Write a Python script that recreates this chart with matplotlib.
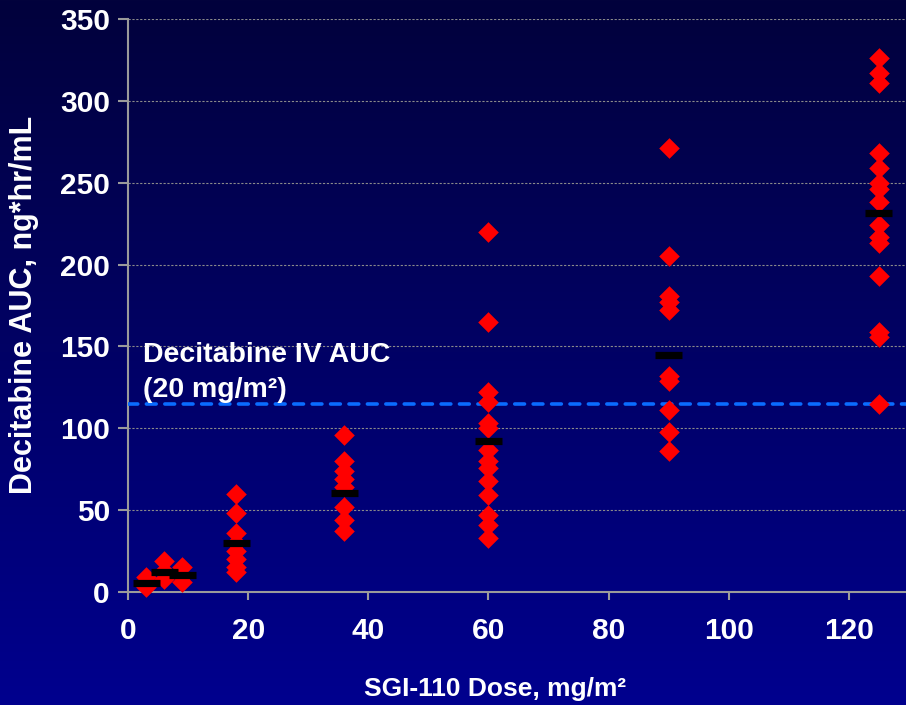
import matplotlib
matplotlib.use("Agg")
import matplotlib.pyplot as plt
import numpy as np

plt.rcParams["font.family"] = ["Liberation Sans", "DejaVu Sans"]
plt.rcParams["font.weight"] = "bold"

# SGI-110 dose levels (mg/m2) and individual decitabine AUC values (ng*hr/mL)
doses = [3, 6, 9, 18, 36, 60, 90, 125]
auc_3 = [3, 9]
auc_6 = [8, 13, 19]
auc_9 = [6, 10, 15]
auc_18 = [60, 48, 36, 30, 25, 20, 15, 12]
auc_36 = [96, 80, 74, 69, 64, 52, 44, 37]
auc_60 = [220, 165, 122, 116, 103, 100, 87, 80, 76, 68, 59, 47, 41, 33]
auc_90 = [271, 205, 181, 177, 172, 132, 129, 111, 98, 86]
auc_125 = [326, 317, 311, 268, 259, 250, 246, 238, 224, 217, 213, 193, 159, 156, 115]
auc_groups = [auc_3, auc_6, auc_9, auc_18, auc_36, auc_60, auc_90, auc_125]
group_means = [5.3, 12.4, 10.4, 30.2, 60.4, 92.4, 144.8, 231.5]

iv_auc = 115
x_ticks = [0, 20, 40, 60, 80, 100, 120]
y_ticks = [0, 50, 100, 150, 200, 250, 300, 350]

fig = plt.figure(figsize=(9.06, 7.05), dpi=100)

# slide-style vertical gradient background
bg = fig.add_axes([0, 0, 1, 1], zorder=-10)
grad = np.linspace(0, 1, 256).reshape(-1, 1)
top = np.array([2, 2, 60]) / 255
bottom = np.array([0, 0, 142]) / 255
colors = top + (bottom - top) * grad[:, :, None]
bg.imshow(colors, aspect="auto", extent=[0, 1, 0, 1], origin="upper")
bg.axis("off")

ax = fig.add_axes([0.1413, 0.1603, 0.8587, 0.8128])
ax.set_facecolor("none")

for dose, vals in zip(doses, auc_groups):
    ax.scatter([dose] * len(vals), vals, marker="D", s=110, c="#ff0000",
               linewidths=0, zorder=4, clip_on=False)

ax.hlines(group_means, np.array(doses) - 2.25, np.array(doses) + 2.25,
          colors="black", linewidth=5.2, capstyle="butt", zorder=5)

ax.axhline(iv_auc, color="#0a6cff", linewidth=2.6, linestyle=(0, (2.7, 2.4)),
           dash_capstyle="round", zorder=3)

ax.text(2.5, 140.6, "Decitabine IV AUC", color="white", fontsize=20.5,
        fontweight="bold", va="baseline", ha="left")
ax.text(2.5, 119.2, "(20 mg/m²)", color="white", fontsize=20.5,
        fontweight="bold", va="baseline", ha="left")

ax.set_xlim(0, 129.5)
ax.set_ylim(0, 350)
ax.set_xticks(x_ticks)
ax.set_yticks(y_ticks)
ax.yaxis.grid(True, color="#8a8a8a", linestyle=(0, (2, 1.5)), linewidth=0.8)
ax.set_axisbelow(True)

for side in ["top", "right"]:
    ax.spines[side].set_visible(False)
for side in ["left", "bottom"]:
    ax.spines[side].set_color("#9a9a9a")
    ax.spines[side].set_linewidth(1.5)

ax.tick_params(axis="y", direction="out", length=7, width=1.5, color="#9a9a9a",
               labelcolor="white", labelsize=21.5, pad=6)
ax.tick_params(axis="x", direction="out", length=6, width=1.5, color="#9a9a9a",
               labelcolor="white", labelsize=21.5, pad=12)
for lbl in ax.get_xticklabels() + ax.get_yticklabels():
    lbl.set_fontweight("bold")

fig.text(495 / 906, 1 - 689 / 705, "SGI-110 Dose, mg/m²", color="white",
         fontsize=19, fontweight="bold", ha="center", va="center")
fig.text(24 / 906, 1 - 305 / 705, "Decitabine AUC, ng*hr/mL", color="white",
         fontsize=22, fontweight="bold", ha="center", va="center", rotation=90)

fig.savefig("out.png", dpi=100)
plt.close(fig)
